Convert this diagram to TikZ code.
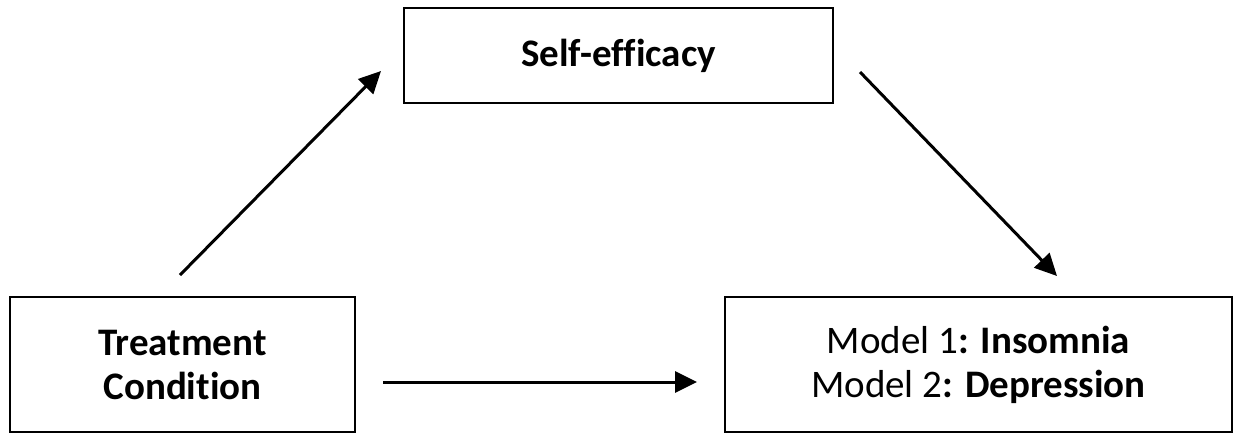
\documentclass[tikz,border=0pt]{standalone}
\usepackage{fontspec}
\setmainfont[Ligatures=NoCommon]{Carlito}
\usetikzlibrary{arrows.meta}

\begin{document}
\begin{tikzpicture}[
x=0.5pt, y=-0.5pt,
boxnode/.style={rectangle, draw=black, line width=1.2pt, inner sep=0pt, align=center,
  font=\fontsize{19.5}{22}\selectfont},
pathline/.style={line width=1.5pt, -{Triangle[length=11pt,width=10.5pt]}}
]
\useasboundingbox (0,0) rectangle (1240,435);

\node[boxnode, minimum width=214.5pt, minimum height=47.5pt] (SE) at (618.5,55.5) {\textbf{Self-efficacy}};
\node[boxnode, minimum width=172.5pt, minimum height=67.5pt] (TC) at (182.5,364.5) {\textbf{Treatment}\\\textbf{Condition}};
\node[boxnode, minimum width=253.5pt, minimum height=67.5pt] (MO) at (978.5,364.5) {Model 1\textbf{: Insomnia}\\Model 2\textbf{: Depression}};

\coordinate (a1) at (180,275);
\coordinate (a2) at (381,71);
\coordinate (b1) at (860,72);
\coordinate (b2) at (1057,276);
\coordinate (c1) at (383,382);
\coordinate (c2) at (697,382);

\draw[pathline] (a1) -- (a2);
\draw[pathline] (b1) -- (b2);
\draw[pathline] (c1) -- (c2);
\end{tikzpicture}
\end{document}
